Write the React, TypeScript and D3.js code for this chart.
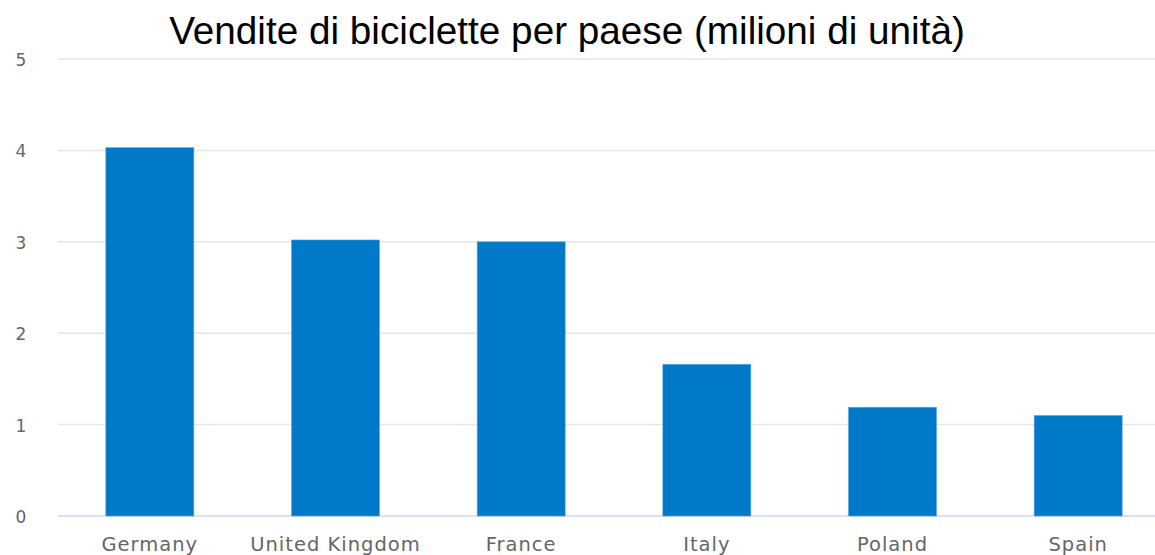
import React from "react";
import * as d3 from "d3";

const categories = ["Germany", "United Kingdom", "France", "Italy", "Poland", "Spain"];
const values = [4.03, 3.02, 3.0, 1.66, 1.19, 1.1];
const yTicks = [0, 1, 2, 3, 4, 5];
const title = "Vendite di biciclette per paese (milioni di unità)";

export default function App() {
  const W = 1155, H = 555;
  const x = d3.scaleBand<string>().domain(categories).range([57, 1171]).paddingInner(0.526).paddingOuter(0.263);
  const y = d3.scaleLinear().domain([0, 5]).range([516, 59]);
  return (
    <svg width={W} height={H} style={{ position: "absolute", left: 0, top: 0, background: "#fff" }}>
      <text x={567} y={44} textAnchor="middle" fontFamily="Liberation Sans, Arial, sans-serif" fontSize={38.7} fill="#000">{title}</text>
      {yTicks.map((t) => (
        <g key={t}>
          <line x1={58} x2={W} y1={y(t)} y2={y(t)} stroke={t === 0 ? "#ccd6eb" : "#e6e6e6"} strokeWidth={1.5} />
          <text x={21} y={y(t) + 7} textAnchor="middle" fontFamily="DejaVu Sans, sans-serif" fontSize={17} fill="#666">{t}</text>
        </g>
      ))}
      {categories.map((c, i) => (
        <g key={c}>
          <rect x={x(c)} y={y(values[i])} width={x.bandwidth()} height={y(0) - y(values[i])} fill="#0079c8" stroke="#5aa8e0" strokeWidth={0.6} />
          <text x={(x(c) as number) + x.bandwidth() / 2} y={551} textAnchor="middle" fontFamily="DejaVu Sans, sans-serif" fontSize={19.5} letterSpacing={1} fill="#666">{c}</text>
        </g>
      ))}
    </svg>
  );
}
